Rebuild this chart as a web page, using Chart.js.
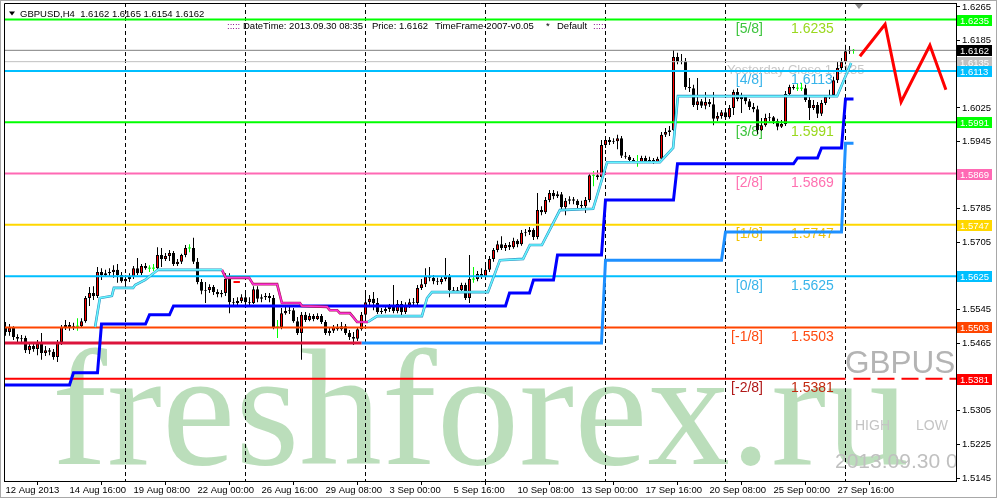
<!DOCTYPE html>
<html><head><meta charset="utf-8">
<script src="https://cdn.jsdelivr.net/npm/chart.js@4.4.1/dist/chart.umd.min.js"></script>
<style>html,body{margin:0;padding:0;background:#fff;overflow:hidden}canvas{display:block}</style>
</head><body>
<canvas id="c" width="998" height="501" style="width:998px;height:501px"></canvas>
<script>
// ---------- DATA ----------
const symbolName = 'GBPUSD,H4';
const xTickLabels = ['12 Aug 2013','14 Aug 16:00','19 Aug 08:00','22 Aug 00:00','26 Aug 16:00','29 Aug 08:00','3 Sep 00:00','5 Sep 16:00','10 Sep 08:00','13 Sep 00:00','17 Sep 16:00','20 Sep 08:00','25 Sep 00:00','27 Sep 16:00'];
const xTickBars = [0,16,32,48,64,80,96,112,128,144,160,176,192,208];
const weekStartBars = [30,60,90,120,150,180,210];
const yTicks = [1.6265,1.6185,1.6105,1.6025,1.5945,1.5865,1.5785,1.5705,1.5625,1.5545,1.5465,1.5385,1.5305,1.5225,1.5145];

const openP = [1.5504,1.5492,1.5502,1.5480,1.5476,1.5478,1.5449,1.5459,1.5452,1.5464,
 1.5442,1.5449,1.5445,1.5433,1.5468,1.5504,1.5509,1.5502,1.5506,1.5506,
 1.5518,1.5573,1.5585,1.5578,1.5635,1.5628,1.5632,1.5635,1.5640,1.5628,
 1.5613,1.5618,1.5623,1.5644,1.5632,1.5649,1.5644,1.5644,1.5644,1.5675,
 1.5666,1.5673,1.5680,1.5654,1.5659,1.5675,1.5692,1.5692,1.5659,1.5611,
 1.5590,1.5592,1.5599,1.5587,1.5582,1.5585,1.5618,1.5563,1.5561,1.5566,
 1.5575,1.5563,1.5561,1.5594,1.5571,1.5575,1.5578,1.5573,1.5504,1.5504,
 1.5537,1.5542,1.5544,1.5518,1.5490,1.5533,1.5521,1.5530,1.5523,1.5530,
 1.5516,1.5490,1.5495,1.5504,1.5499,1.5506,1.5490,1.5480,1.5476,1.5499,
 1.5533,1.5563,1.5571,1.5561,1.5540,1.5542,1.5547,1.5552,1.5542,1.5559,
 1.5540,1.5556,1.5563,1.5561,1.5597,1.5606,1.5625,1.5621,1.5613,1.5611,
 1.5618,1.5625,1.5592,1.5590,1.5592,1.5604,1.5573,1.5618,1.5618,1.5630,
 1.5625,1.5640,1.5666,1.5687,1.5701,1.5692,1.5699,1.5694,1.5709,1.5701,
 1.5728,1.5730,1.5735,1.5718,1.5782,1.5777,1.5806,1.5823,1.5815,1.5820,
 1.5789,1.5804,1.5808,1.5804,1.5794,1.5791,1.5806,1.5865,1.5865,1.5861,
 1.5937,1.5949,1.5944,1.5946,1.5953,1.5911,1.5909,1.5901,1.5896,1.5896,
 1.5906,1.5899,1.5901,1.5896,1.5904,1.5961,1.5968,1.5972,1.6146,1.6134,
 1.6137,1.6075,1.6072,1.6032,1.6041,1.6030,1.6039,1.6034,1.5999,1.6006,
 1.6015,1.6003,1.6025,1.6063,1.6046,1.6051,1.6041,1.6027,1.6022,1.5972,
 1.5984,1.6001,1.6003,1.5994,1.5980,1.5987,1.6058,1.6075,1.6072,1.6072,
 1.6072,1.6044,1.6025,1.6032,1.6011,1.6037,1.6051,1.6056,1.6091,1.6120,
 1.6135,1.6160,1.6162];
const closeP = [1.5492,1.5502,1.5480,1.5476,1.5478,1.5449,1.5459,1.5452,1.5464,1.5442,
 1.5449,1.5445,1.5433,1.5468,1.5504,1.5509,1.5502,1.5506,1.5506,1.5518,
 1.5573,1.5585,1.5578,1.5635,1.5628,1.5632,1.5635,1.5640,1.5628,1.5613,
 1.5618,1.5623,1.5644,1.5632,1.5649,1.5644,1.5644,1.5644,1.5675,1.5666,
 1.5673,1.5680,1.5654,1.5659,1.5675,1.5692,1.5692,1.5659,1.5611,1.5590,
 1.5592,1.5599,1.5587,1.5582,1.5585,1.5618,1.5563,1.5561,1.5566,1.5575,
 1.5563,1.5561,1.5594,1.5571,1.5575,1.5578,1.5573,1.5504,1.5504,1.5537,
 1.5542,1.5544,1.5518,1.5490,1.5533,1.5521,1.5530,1.5523,1.5530,1.5516,
 1.5490,1.5495,1.5504,1.5499,1.5506,1.5490,1.5480,1.5476,1.5499,1.5533,
 1.5563,1.5571,1.5561,1.5540,1.5542,1.5547,1.5552,1.5542,1.5559,1.5540,
 1.5556,1.5563,1.5561,1.5597,1.5606,1.5625,1.5621,1.5613,1.5611,1.5618,
 1.5625,1.5592,1.5590,1.5592,1.5604,1.5573,1.5618,1.5618,1.5630,1.5625,
 1.5640,1.5666,1.5687,1.5701,1.5692,1.5699,1.5694,1.5709,1.5701,1.5728,
 1.5730,1.5735,1.5718,1.5782,1.5777,1.5806,1.5823,1.5815,1.5820,1.5789,
 1.5804,1.5808,1.5804,1.5794,1.5791,1.5806,1.5865,1.5865,1.5861,1.5937,
 1.5949,1.5944,1.5946,1.5953,1.5911,1.5909,1.5901,1.5896,1.5896,1.5906,
 1.5899,1.5901,1.5896,1.5904,1.5961,1.5968,1.5972,1.6146,1.6134,1.6137,
 1.6075,1.6072,1.6032,1.6041,1.6030,1.6039,1.6034,1.5999,1.6006,1.6015,
 1.6003,1.6025,1.6063,1.6046,1.6051,1.6041,1.6027,1.6022,1.5972,1.5984,
 1.6001,1.6003,1.5994,1.5980,1.5987,1.6058,1.6075,1.6072,1.6072,1.6072,
 1.6044,1.6025,1.6032,1.6011,1.6037,1.6051,1.6056,1.6091,1.6120,1.6135,
 1.6160,1.6162,1.6162];
const highP = [1.5516,1.5511,1.5506,1.5487,1.5485,1.5483,1.5466,1.5468,1.5473,1.5490,
 1.5459,1.5454,1.5452,1.5473,1.5509,1.5521,1.5516,1.5514,1.5525,1.5525,
 1.5578,1.5599,1.5601,1.5647,1.5644,1.5640,1.5644,1.5651,1.5654,1.5635,
 1.5628,1.5632,1.5649,1.5668,1.5654,1.5656,1.5651,1.5654,1.5694,1.5692,
 1.5680,1.5687,1.5685,1.5666,1.5678,1.5699,1.5701,1.5716,1.5668,1.5618,
 1.5611,1.5606,1.5604,1.5594,1.5592,1.5632,1.5632,1.5573,1.5575,1.5582,
 1.5587,1.5575,1.5601,1.5601,1.5582,1.5585,1.5585,1.5580,1.5521,1.5549,
 1.5552,1.5554,1.5549,1.5528,1.5540,1.5540,1.5537,1.5535,1.5537,1.5535,
 1.5521,1.5504,1.5509,1.5511,1.5516,1.5511,1.5497,1.5492,1.5504,1.5540,
 1.5592,1.5580,1.5587,1.5573,1.5549,1.5554,1.5559,1.5604,1.5568,1.5566,
 1.5563,1.5571,1.5573,1.5604,1.5618,1.5644,1.5647,1.5628,1.5621,1.5625,
 1.5668,1.5630,1.5599,1.5599,1.5609,1.5609,1.5675,1.5647,1.5637,1.5644,
 1.5649,1.5673,1.5692,1.5709,1.5720,1.5704,1.5706,1.5716,1.5713,1.5735,
 1.5737,1.5742,1.5739,1.5823,1.5791,1.5813,1.5830,1.5830,1.5827,1.5825,
 1.5811,1.5815,1.5813,1.5808,1.5804,1.5813,1.5870,1.5875,1.5877,1.5949,
 1.5958,1.5956,1.5953,1.5961,1.5958,1.5920,1.5913,1.5906,1.5913,1.5911,
 1.5911,1.5909,1.5906,1.5909,1.5968,1.5977,1.5982,1.6163,1.6156,1.6153,
 1.6144,1.6096,1.6080,1.6096,1.6046,1.6063,1.6046,1.6063,1.6015,1.6020,
 1.6020,1.6032,1.6068,1.6072,1.6061,1.6056,1.6046,1.6037,1.6030,1.6001,
 1.6011,1.6013,1.6006,1.5999,1.5996,1.6065,1.6080,1.6080,1.6082,1.6084,
 1.6080,1.6053,1.6044,1.6039,1.6044,1.6056,1.6068,1.6099,1.6134,1.6144,
 1.6175,1.6172,1.6165];
const lowP = [1.5483,1.5483,1.5473,1.5466,1.5468,1.5442,1.5440,1.5445,1.5437,1.5426,
 1.5435,1.5437,1.5426,1.5421,1.5461,1.5497,1.5495,1.5497,1.5495,1.5502,
 1.5514,1.5554,1.5568,1.5573,1.5616,1.5623,1.5625,1.5621,1.5609,1.5609,
 1.5606,1.5611,1.5618,1.5628,1.5628,1.5640,1.5635,1.5637,1.5640,1.5647,
 1.5661,1.5661,1.5649,1.5649,1.5654,1.5670,1.5682,1.5654,1.5606,1.5582,
 1.5561,1.5585,1.5580,1.5575,1.5575,1.5578,1.5537,1.5554,1.5556,1.5561,
 1.5559,1.5554,1.5559,1.5563,1.5563,1.5568,1.5563,1.5499,1.5478,1.5499,
 1.5533,1.5535,1.5514,1.5485,1.5426,1.5516,1.5518,1.5518,1.5521,1.5511,
 1.5485,1.5483,1.5490,1.5495,1.5495,1.5485,1.5473,1.5461,1.5471,1.5495,
 1.5525,1.5554,1.5544,1.5535,1.5535,1.5537,1.5540,1.5537,1.5537,1.5528,
 1.5535,1.5549,1.5554,1.5556,1.5592,1.5599,1.5613,1.5606,1.5604,1.5606,
 1.5613,1.5575,1.5585,1.5585,1.5587,1.5568,1.5561,1.5609,1.5613,1.5618,
 1.5621,1.5635,1.5659,1.5682,1.5687,1.5685,1.5687,1.5690,1.5694,1.5697,
 1.5720,1.5723,1.5711,1.5713,1.5770,1.5773,1.5801,1.5808,1.5811,1.5782,
 1.5770,1.5796,1.5796,1.5787,1.5787,1.5775,1.5801,1.5839,1.5854,1.5856,
 1.5930,1.5937,1.5939,1.5927,1.5906,1.5904,1.5894,1.5894,1.5885,1.5894,
 1.5894,1.5896,1.5892,1.5894,1.5899,1.5956,1.5958,1.5970,1.6129,1.6129,
 1.6068,1.6063,1.6027,1.6020,1.6025,1.6022,1.6027,1.5984,1.5994,1.5999,
 1.5996,1.5999,1.6008,1.6041,1.6013,1.6034,1.6020,1.6015,1.5963,1.5970,
 1.5980,1.5994,1.5987,1.5972,1.5977,1.5982,1.6051,1.6068,1.6065,1.6065,
 1.6039,1.5996,1.6020,1.6001,1.6006,1.6032,1.6046,1.6051,1.6084,1.6115,
 1.6129,1.6153,1.6154];

// Murrey levels
const levelNames  = ['[5/8]','[4/8]','[3/8]','[2/8]','[1/8]','[0/8]','[-1/8]','[-2/8]'];
const levelPrices = [1.6235,1.6113,1.5991,1.5869,1.5747,1.5625,1.5503,1.5381];
const levelColors = ['#00ff00','#00bfff','#00ff00','#ff69b4','#ffd700','#00bfff','#ff4500','#ff0000'];
const levelNameColors  = ['#3cc43c','#38b4ea','#3cc43c','#ff70b0','#f2c200','#38b4ea','#ff4a10','#b01818'];
const levelValueColors = ['#9ad81e','#38b4ea','#9ad81e','#ff70b0','#f2c200','#38b4ea','#ff4a10','#c22a10'];
const yesterdayClose = 1.6135;

// step indicators (bar index, price)
const blueBars   = [-0.4,16,17,23,24,35,36,41,42,125,126,131,132,137,138,149,150,167,168,197,198,203,204,209,210,212];
const bluePrices = [1.5366,1.5366,1.5395,1.5395,1.5511,1.5511,1.5533,1.5533,1.5554,1.5554,1.5585,1.5585,1.5616,1.5616,1.5675,1.5675,1.5806,1.5806,1.5892,1.5892,1.5906,1.5906,1.5930,1.5930,1.6046,1.6046];
const crimsonBars = [-0.4,89];
const crimsonPrices = [1.5466,1.5466];
const dodgerBars = [89,149,150,179,180,209,210,212];
const dodgerPrices = [1.5466,1.5466,1.5663,1.5663,1.5730,1.5730,1.5941,1.5941];
const cyanABars = [22.4,23.6,26.6,27.1,31.9,32.4,34.9,38.1,54.1];
const cyanAPrices = [1.5504,1.5573,1.5578,1.5597,1.5597,1.5604,1.5616,1.5640,1.5640];
const magentaBars = [54.1,55.1,60.9,61.9,67.9,69.1,73.6,74.1,80.4,81.1,82.9,83.6,86.1,86.9,87.9,90.6];
const magentaPrices = [1.5640,1.5621,1.5621,1.5606,1.5606,1.5561,1.5561,1.5554,1.5552,1.5544,1.5544,1.5537,1.5537,1.5528,1.5516,1.5516];
const cyanBBars = [90.6,92.9,104.1,105.4,106.6,120.6,123.6,129.4,131.1,134.1,138.6,146.9,150.4,163.6,166.9,168.1,207.9,211.4];
const cyanBPrices = [1.5516,1.5530,1.5530,1.5573,1.5587,1.5587,1.5663,1.5666,1.5699,1.5699,1.5782,1.5785,1.5896,1.5896,1.5930,1.6053,1.6053,1.6132];
const redMarkBars = [57,58.6];
const redMarkPrices = [1.5611,1.5611];
const zigzagBars = [213.6,219.9,223.9,231.1,235.1];
const zigzagPrices = [1.6148,1.6224,1.6039,1.6174,1.6068];

// right-axis price boxes
const boxPrices = [1.6235,1.6162,1.6135,1.6113,1.5991,1.5869,1.5747,1.5625,1.5503,1.5381];
const boxColors = ['#00ff00','#000000','#c0c0c0','#00bfff','#00ff00','#ff69b4','#ffd700','#00bfff','#ff4500','#ff0000'];

// ---------- CHART ----------
const FONT = "'Liberation Sans', Arial, sans-serif";
const X_MIN = -0.375, X_MAX = 237.625, Y_MIN = 1.513787, Y_MAX = 1.627451;
const n = closeP.length;
const idx = closeP.map((_, i) => i);
const isDoji = i => openP[i] === closeP[i];
const dojiHalf = 0.00012;

const wickData = idx.map(i => ({x: i, y: [lowP[i], highP[i]]}));
const wickColors = idx.map(i => isDoji(i) ? '#00ff00' : '#000000');
const bodyData = idx.map(i => isDoji(i) ? {x: i, y: [openP[i] - dojiHalf, openP[i] + dojiHalf]} : {x: i, y: [openP[i], closeP[i]]});
const bodyFill = idx.map(i => isDoji(i) ? '#00ff00' : (closeP[i] > openP[i] ? '#ff0000' : '#000000'));
const bodyBorderW = idx.map(i => isDoji(i) ? 0 : 1);

function lineDS(xs, ys, color, width, order, dash) {
  return {type: 'line', data: xs.map((x, k) => ({x, y: ys[k]})), borderColor: color, borderWidth: width,
    pointRadius: 0, pointHoverRadius: 0, fill: false, tension: 0, order, borderDash: dash || [],
    borderCapStyle: 'butt', borderJoinStyle: 'miter'};
}

const datasets = [
  {type: 'bar', data: wickData, backgroundColor: wickColors, barThickness: 1, borderWidth: 0, grouped: false, inflateAmount: 0, order: 30},
  {type: 'bar', data: bodyData, backgroundColor: bodyFill, borderColor: '#000', borderWidth: bodyBorderW, borderSkipped: false, barThickness: 3, grouped: false, inflateAmount: 0, order: 29},
];
levelPrices.forEach((p, k) => {
  if (k === levelPrices.length - 1) {
    datasets.push(lineDS([X_MIN, weekStartBars[weekStartBars.length - 1]], [p, p], levelColors[k], 2, 12));
    datasets.push(lineDS([n - 1, X_MAX], [p, p], levelColors[k], 2, 12, [17, 7]));
  } else {
    datasets.push(lineDS([X_MIN, X_MAX], [p, p], levelColors[k], 2, 12));
  }
});
datasets.push(lineDS([X_MIN, X_MAX], [closeP[n - 1], closeP[n - 1]], '#808080', 1, 13));
datasets.push(lineDS([X_MIN, X_MAX], [yesterdayClose, yesterdayClose], '#c0c0c0', 1, 14));
datasets.push(lineDS(crimsonBars, crimsonPrices, '#dc143c', 3, 8));
datasets.push(lineDS(dodgerBars, dodgerPrices, '#1e90ff', 3, 8));
datasets.push(lineDS(blueBars, bluePrices, '#0000ff', 3, 7));
datasets.push(lineDS(cyanABars, cyanAPrices, '#2f8fc0', 2.6, 6));
datasets.push(lineDS(cyanABars, cyanAPrices, '#66f6ff', 1.5, 5));
datasets.push(lineDS(magentaBars, magentaPrices, '#a0184a', 2.6, 6));
datasets.push(lineDS(magentaBars, magentaPrices, '#ff30d8', 1.5, 5));
datasets.push(lineDS(cyanBBars, cyanBPrices, '#2f8fc0', 2.6, 6));
datasets.push(lineDS(cyanBBars, cyanBPrices, '#66f6ff', 1.5, 5));
datasets.push(lineDS(redMarkBars, redMarkPrices, '#ff0000', 2, 4));
datasets.push(lineDS(zigzagBars, zigzagPrices, '#ff0000', 3, 2));

const decor = {
  id: 'decor',
  beforeDatasetsDraw(chart) {
    const {ctx, chartArea: a, scales: {x, y}} = chart;
    ctx.save();
    ctx.beginPath(); ctx.rect(a.left, a.top, a.right - a.left, a.bottom - a.top); ctx.clip();
    ctx.textBaseline = 'alphabetic'; ctx.textAlign = 'left';
    // watermark
    ctx.fillStyle = 'rgba(120,190,120,0.5)';
    ctx.font = "165px 'Liberation Serif', 'Times New Roman', serif";
    ctx.fillText('freshforex.ru', 52, 464);
    // info panel
    ctx.fillStyle = '#b4b4b4'; ctx.font = '31.5px ' + FONT; ctx.fillText('GBPUSD', 845, 373);
    ctx.fillStyle = '#c4c4c4'; ctx.font = '14px ' + FONT; ctx.fillText('HIGH', 855, 430); ctx.fillText('LOW', 916, 430);
    ctx.fillStyle = '#c0c0c0'; ctx.font = '21px ' + FONT; ctx.fillText('2013.09.30 08:35', 835, 468);
    // weekly separators
    ctx.strokeStyle = '#000'; ctx.lineWidth = 1; ctx.setLineDash([4, 3]);
    weekStartBars.forEach(b => {
      const px = Math.floor(x.getPixelForValue(b)) + 0.5;
      ctx.beginPath(); ctx.moveTo(px, a.top); ctx.lineTo(px, a.bottom); ctx.stroke();
    });
    ctx.setLineDash([]);
    // level labels
    ctx.font = '14px ' + FONT;
    levelPrices.forEach((p, k) => {
      const py = y.getPixelForValue(p) + 13.5;
      ctx.textAlign = 'right'; ctx.fillStyle = levelNameColors[k]; ctx.fillText(levelNames[k], 763, py);
      ctx.textAlign = 'left'; ctx.fillStyle = levelValueColors[k]; ctx.fillText(p.toFixed(4), 791, py);
    });
    ctx.font = '13px ' + FONT; ctx.fillStyle = '#c8c8c8'; ctx.textAlign = 'left';
    ctx.fillText('Yesterday Close ' + yesterdayClose.toFixed(4), 727, y.getPixelForValue(yesterdayClose) + 12.5);
    // header
    ctx.fillStyle = '#000';
    ctx.beginPath(); ctx.moveTo(9, 11.5); ctx.lineTo(15, 11.5); ctx.lineTo(12, 15.5); ctx.closePath(); ctx.fill();
    ctx.font = '9.5px ' + FONT;
    const last = n - 1;
    ctx.fillText(symbolName + '  ' + [openP[last], highP[last], lowP[last], closeP[last]].map(v => v.toFixed(4)).join(' '), 20, 16.5);
    ctx.fillStyle = '#800080'; ctx.fillText(':::::', 227, 28.5); ctx.fillText(':::::', 593, 28.5);
    ctx.fillStyle = '#000';
    ctx.fillText('DateTime: 2013.09.30 08:35', 243, 28.5);
    ctx.fillText('Price: ' + closeP[last].toFixed(4), 372, 28.5);
    ctx.fillText('TimeFrame-2007-v0.05', 435, 28.5);
    ctx.fillText('*', 546, 28.5);
    ctx.fillText('Default', 557, 28.5);
    ctx.restore();
  },
  afterDraw(chart) {
    const {ctx, chartArea: a, scales: {y}} = chart;
    ctx.save();
    ctx.strokeStyle = '#000'; ctx.lineWidth = 1;
    ctx.beginPath(); ctx.moveTo(a.left + 0.5, a.bottom); ctx.lineTo(a.left + 0.5, a.top + 0.5); ctx.lineTo(a.right, a.top + 0.5); ctx.stroke();
    ctx.font = '9.5px ' + FONT; ctx.textAlign = 'left'; ctx.textBaseline = 'alphabetic';
    boxPrices.forEach((p, k) => {
      const py = Math.round(y.getPixelForValue(p));
      ctx.fillStyle = boxColors[k]; ctx.fillRect(957, py - 5, 35, 11);
      ctx.fillStyle = '#fff'; ctx.fillText(p.toFixed(4), 960, py + 4);
    });
    ctx.fillStyle = '#8c8c8c';
    ctx.beginPath(); ctx.moveTo(855, 4); ctx.lineTo(863, 4); ctx.lineTo(859, 9); ctx.closePath(); ctx.fill();
    ctx.strokeStyle = '#a8a8a8'; ctx.strokeRect(0.5, 0.5, 996, 497);
    ctx.restore();
  }
};

new Chart(document.getElementById('c'), {
  type: 'bar',
  data: {datasets},
  options: {
    responsive: false, animation: false, events: [],
    devicePixelRatio: 1,
    layout: {padding: {left: 4, top: 3, right: 0, bottom: 0}},
    plugins: {legend: {display: false}, tooltip: {enabled: false}},
    scales: {
      x: {
        type: 'linear', min: X_MIN, max: X_MAX, offset: false,
        afterBuildTicks: s => { s.ticks = xTickBars.map(v => ({value: v})); },
        afterFit: s => { s.height = 20; s.paddingLeft = 0; s.paddingRight = 0; },
        ticks: {autoSkip: false, maxRotation: 0, align: 'start', padding: 0, color: '#000',
          font: {family: FONT, size: 9.5},
          callback: (v, i) => xTickLabels[i]},
        grid: {drawOnChartArea: false, drawTicks: true, tickLength: 4, color: '#000'},
        border: {display: true, color: '#000'}
      },
      y: {
        type: 'linear', position: 'right', min: Y_MIN, max: Y_MAX,
        afterBuildTicks: s => { s.ticks = yTicks.map(v => ({value: v})); },
        afterFit: s => { s.width = 42; s.paddingTop = 0; s.paddingBottom = 0; },
        ticks: {autoSkip: false, padding: 2, color: '#000', font: {family: FONT, size: 9.5},
          callback: v => Number(v).toFixed(4)},
        grid: {drawOnChartArea: false, drawTicks: true, tickLength: 4, color: '#000'},
        border: {display: true, color: '#000'}
      }
    }
  },
  plugins: [decor]
});
</script>
</body></html>
